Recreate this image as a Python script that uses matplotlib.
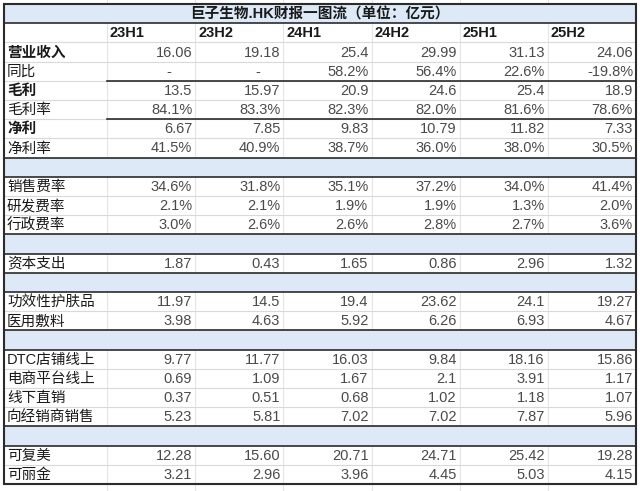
import matplotlib.pyplot as plt
from matplotlib.patches import Rectangle

# 巨子生物 half-year figures (亿元 / %)
periods = ['23H1', '23H2', '24H1', '24H2', '25H1', '25H2']
revenue = [16.06, 19.18, 25.4, 29.99, 31.13, 24.06]
revenue_yoy = [None, None, 58.2, 56.4, 22.6, -19.8]
gross_profit = [13.5, 15.97, 20.9, 24.6, 25.4, 18.9]
gross_margin = [84.1, 83.3, 82.3, 82.0, 81.6, 78.6]
net_profit = [6.67, 7.85, 9.83, 10.79, 11.82, 7.33]
net_margin = [41.5, 40.9, 38.7, 36.0, 38.0, 30.5]
selling_rate = [34.6, 31.8, 35.1, 37.2, 34.0, 41.4]
rnd_rate = [2.1, 2.1, 1.9, 1.9, 1.3, 2.0]
admin_rate = [3.0, 2.6, 2.6, 2.8, 2.7, 3.6]
capex = [1.87, 0.43, 1.65, 0.86, 2.96, 1.32]
skincare = [11.97, 14.5, 19.4, 23.62, 24.1, 19.27]
dressing = [3.98, 4.63, 5.92, 6.26, 6.93, 4.67]
dtc_online = [9.77, 11.77, 16.03, 9.84, 18.16, 15.86]
ecom_online = [0.69, 1.09, 1.67, 2.1, 3.91, 1.17]
offline_direct = [0.37, 0.51, 0.68, 1.02, 1.18, 1.07]
distributors = [5.23, 5.81, 7.02, 7.02, 7.87, 5.96]
comfy = [12.28, 15.60, 20.71, 24.71, 25.42, 19.28]
kelijin = [3.21, 2.96, 3.96, 4.45, 5.03, 4.15]

title = '巨子生物.HK财报一图流（单位：亿元）'
sections = [
    [('营业收入', revenue, 'num', True), ('同比', revenue_yoy, 'pct', False),
     ('毛利', gross_profit, 'num', True), ('毛利率', gross_margin, 'pct', False),
     ('净利', net_profit, 'num', True), ('净利率', net_margin, 'pct', False)],
    [('销售费率', selling_rate, 'pct', False), ('研发费率', rnd_rate, 'pct', False),
     ('行政费率', admin_rate, 'pct', False)],
    [('资本支出', capex, 'num', False)],
    [('功效性护肤品', skincare, 'num', False), ('医用敷料', dressing, 'num', False)],
    [('DTC店铺线上', dtc_online, 'num', False), ('电商平台线上', ecom_online, 'num', False),
     ('线下直销', offline_direct, 'num', False), ('向经销商销售', distributors, 'num', False)],
    [('可复美', comfy, 'num2', False), ('可丽金', kelijin, 'num2', False)],
]
dark_under = {'同比', '毛利率'}

plt.rcParams['font.family'] = ['Liberation Sans', 'Noto Sans CJK SC', 'DejaVu Sans']

BLUE = '#dde9f6'
GRID = '#d9d9d9'
DARK = '#2b2b2b'

def fmt(v, kind):
    if v is None:
        return '-'
    if kind == 'pct':
        return f'{v:.1f}%'
    if kind == 'num2':
        return f'{v:.2f}'
    return f'{v:g}'

W, H = 640, 491
fig = plt.figure(figsize=(W / 100, H / 100), dpi=100)
ax = fig.add_axes([0, 0, 1, 1])
ax.set_xlim(0, W)
ax.set_ylim(H, 0)
ax.axis('off')

left, right, top = 4, 636, 4
label_w = 103
row_h = 19.2
col_w = (right - left - label_w) / len(periods)
edges = [left, left + label_w] + [left + label_w + col_w * (i + 1) for i in range(len(periods))]

items = [('title',), ('header',)]
for k, sec in enumerate(sections):
    if k:
        items.append(('sep',))
    items += [('row',) + r for r in sec]
bottom = top + row_h * len(items)

# sheet gridlines running past the table
for x in edges[1:-1]:
    ax.plot([x, x], [0, H], color='#e4e4e4', lw=0.8, zorder=0)

for i, it in enumerate(items):
    y0 = top + i * row_h
    y1 = y0 + row_h
    yc = (y0 + y1) / 2
    kind = it[0]
    if kind in ('title', 'sep'):
        ax.add_patch(Rectangle((left, y0), right - left, row_h, facecolor=BLUE,
                               edgecolor='none', zorder=1))
        ax.plot([left, right], [y0, y0], color=DARK, lw=1.2, zorder=3)
        ax.plot([left, right], [y1, y1], color=DARK, lw=1.2, zorder=3)
        if kind == 'title':
            ax.text((left + right) / 2, yc + 0.5, title, ha='center', va='center',
                    fontsize=10.5, fontweight='bold', color='#1a1a1a', zorder=4)
        continue
    ax.plot([left, right], [y1, y1], color=GRID, lw=0.8, zorder=2)
    if kind == 'header':
        for j, p in enumerate(periods):
            ax.text(edges[j + 1] + 3, yc + 0.5, p, ha='left', va='center',
                    fontsize=10.5, fontweight='bold', color='#1a1a1a', zorder=4)
        continue
    _, label, vals, vkind, bold = it
    ax.text(left + 3, yc + 0.5, label, ha='left', va='center', fontsize=10.5,
            fontweight='bold' if bold else 'normal', color='#1a1a1a', zorder=4)
    for j, v in enumerate(vals):
        s = fmt(v, vkind)
        if v is None:
            ax.text(edges[j + 2] - 26, yc + 0.5, s, ha='center', va='center',
                    fontsize=10.5, color='#4a4a4a', zorder=4)
        else:
            ax.text(edges[j + 2] - 3, yc + 0.5, s, ha='right', va='center',
                    fontsize=10.5, color='#4a4a4a', zorder=4)
    if label in dark_under:
        ax.plot([edges[1], right], [y1, y1], color=DARK, lw=1.2, zorder=3)

# outer frame
ax.add_patch(Rectangle((left, top), right - left, bottom - top, facecolor='none',
                       edgecolor=DARK, lw=1.5, zorder=5))

fig.savefig('out.png', dpi=100)
